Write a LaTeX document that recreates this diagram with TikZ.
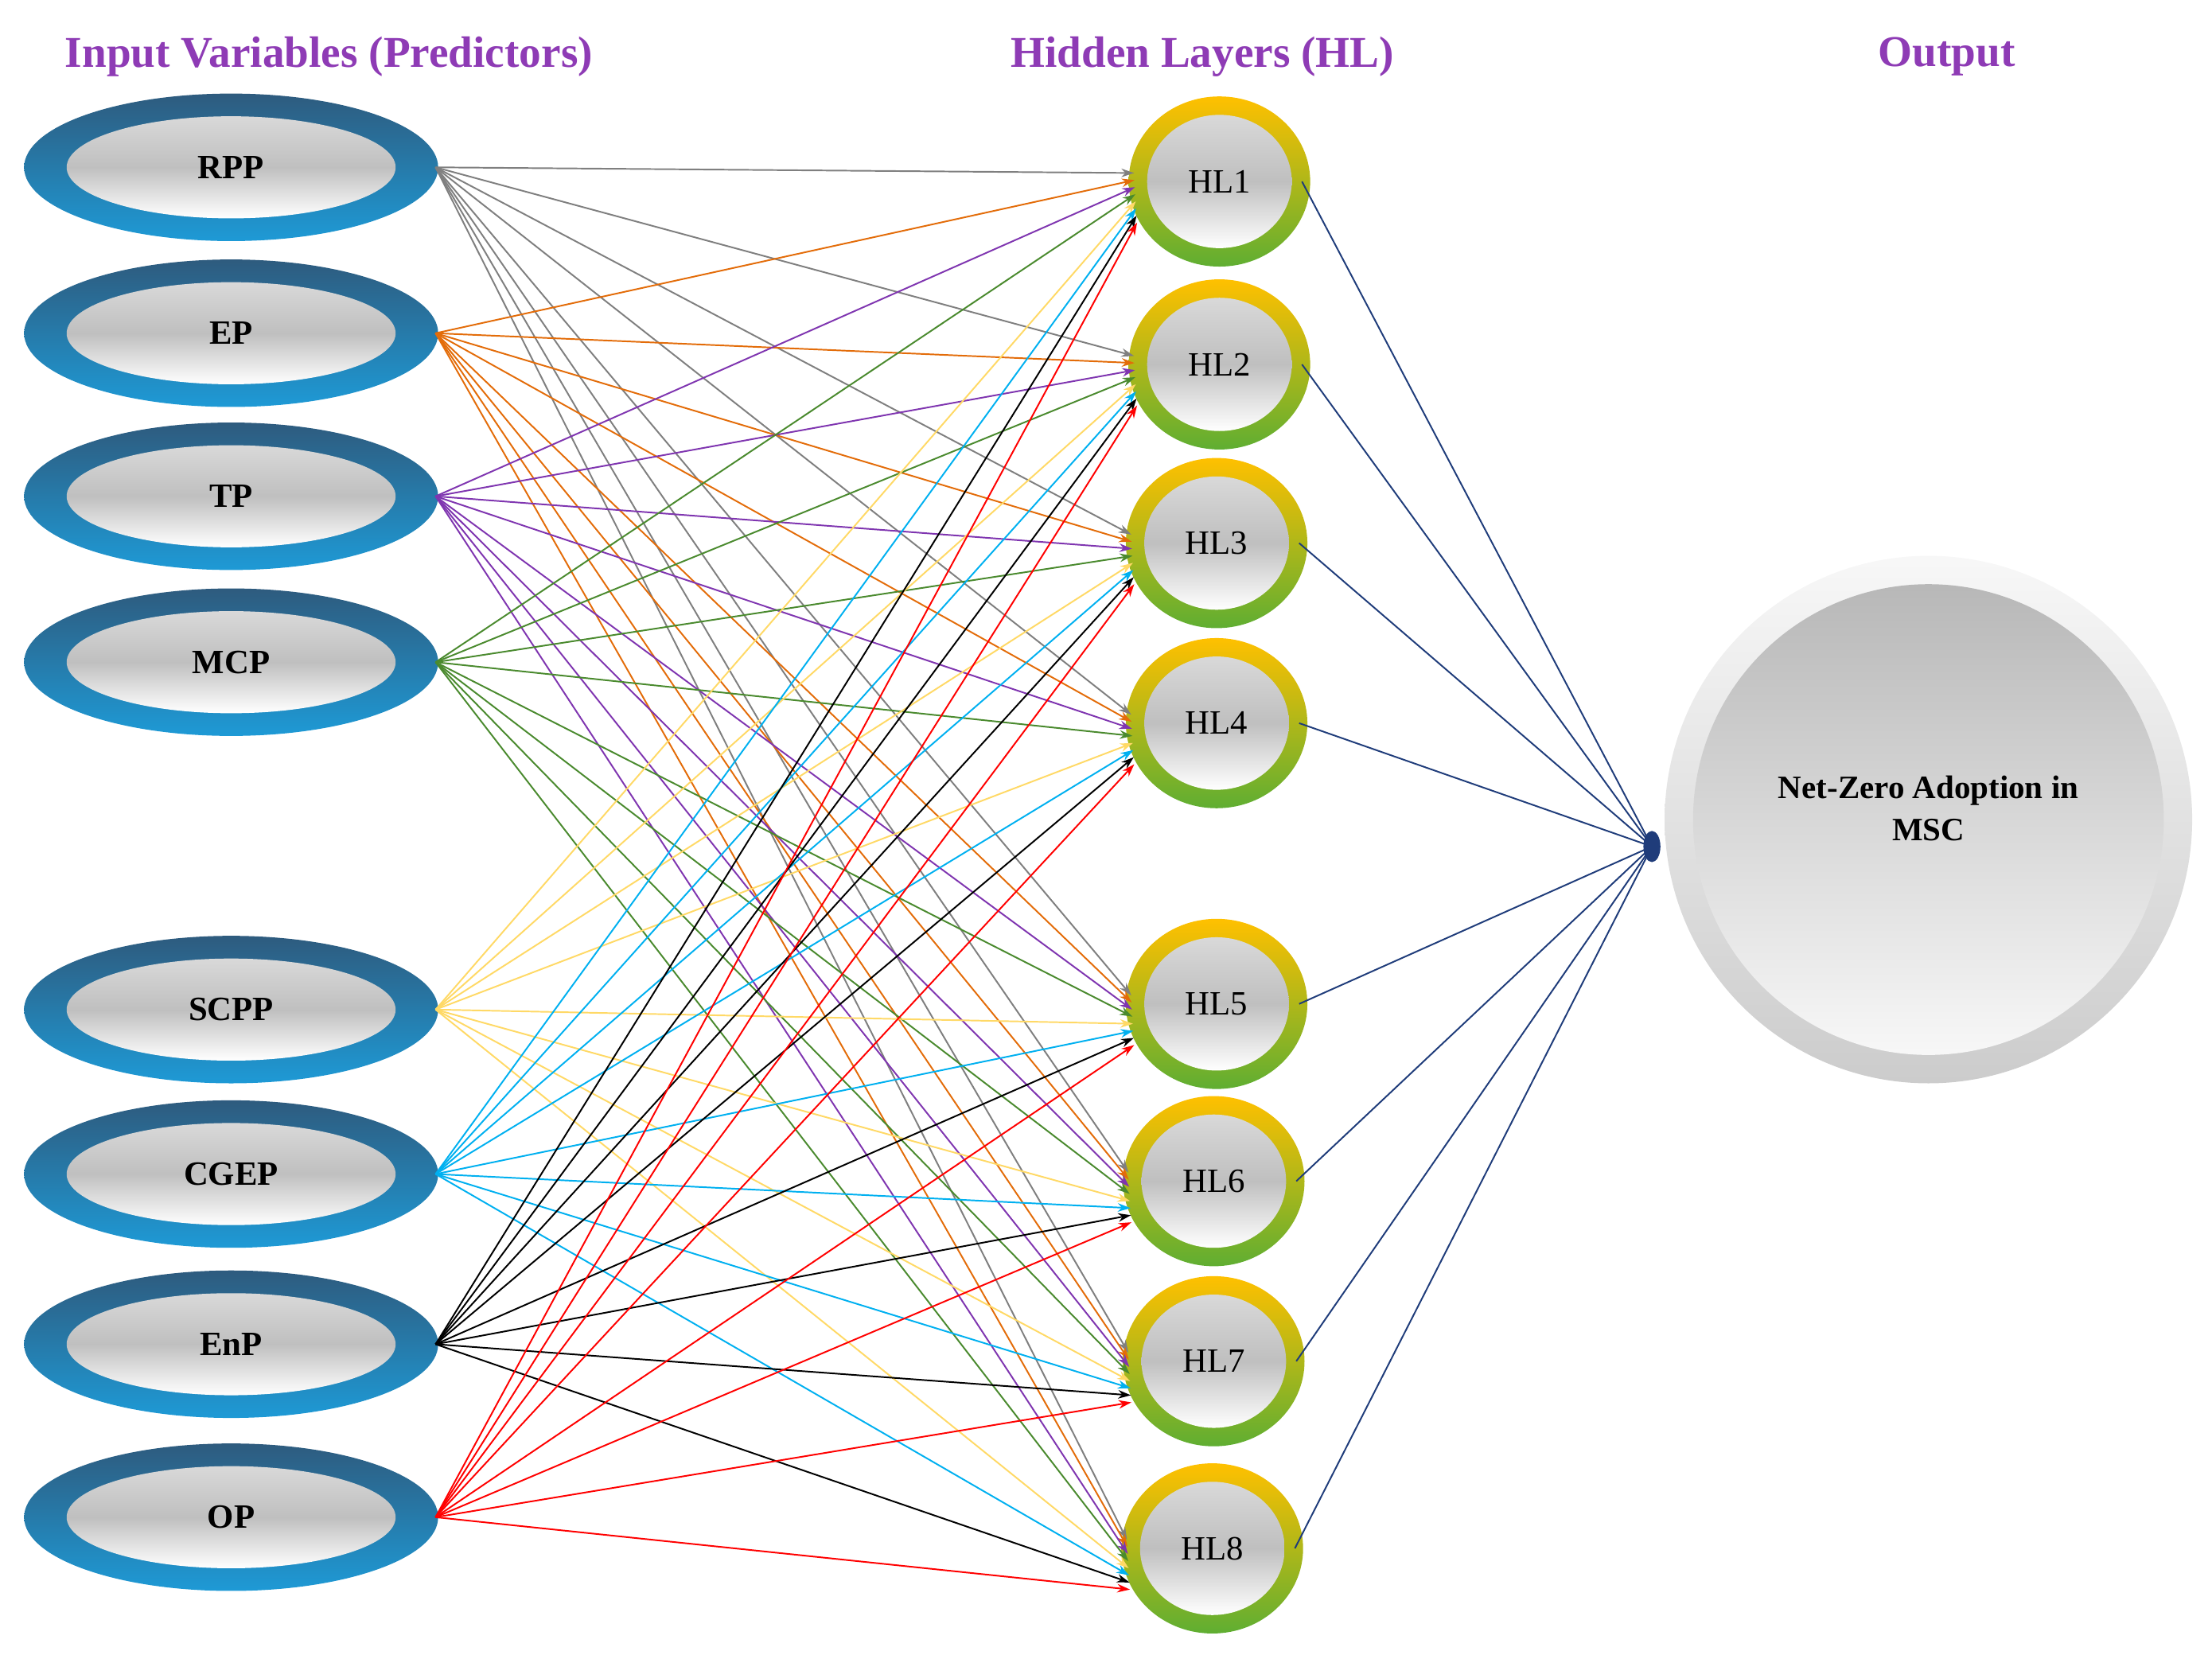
\documentclass[tikz,border=0pt]{standalone}
\usepackage{fontspec}
\setmainfont{Liberation Serif}
\usetikzlibrary{arrows.meta,calc}
\definecolor{ttl}{HTML}{8E3BB5}
\definecolor{cgray}{HTML}{7F7F7F}
\definecolor{corange}{HTML}{E36C09}
\definecolor{cpurple}{HTML}{7F35B0}
\definecolor{cgreen}{HTML}{4A8A2E}
\definecolor{cyellow}{HTML}{FFD966}
\definecolor{ccyan}{HTML}{00B0F0}
\definecolor{cblack}{HTML}{000000}
\definecolor{cred}{HTML}{FF0000}
\definecolor{navy}{HTML}{1F3C7A}
\definecolor{bdark}{HTML}{2E5B7E}
\definecolor{blight}{HTML}{1E9AD6}
\definecolor{ryel}{HTML}{FFC000}
\definecolor{rgrn}{HTML}{5FAE32}
\tikzset{
  ttlstyle/.style={text=ttl,font=\fontsize{31}{34}\selectfont\bfseries},
  inlab/.style={font=\fontsize{24}{28}\selectfont\bfseries},
  hlab/.style={font=\fontsize{24}{28}\selectfont},
  edge/.style={line width=1.1pt,-{Stealth[length=9pt,width=6pt]}},
  outedge/.style={navy,line width=1.1pt}
}
\begin{document}
\begin{tikzpicture}[x=1pt,y=-1pt]
\useasboundingbox (0,0) rectangle (1560,1167);
\node[ttlstyle] (t1) at (232,40) {Input Variables (Predictors)};
\node[ttlstyle] (t2) at (848,40) {Hidden Layers (HL)};
\node[ttlstyle] (t3) at (1373,40) {Output};
% inputs
\foreach \n/\lab/\yy in {1/RPP/118,2/EP/235,3/TP/350,4/MCP/467,5/SCPP/712,6/CGEP/828,7/EnP/948,8/OP/1070}{
  \shade[top color=bdark,bottom color=blight] (163,\yy) ellipse [x radius=146,y radius=52];
  \shade[top color=white!70!gray,bottom color=white,middle color=white!75!black] (163,\yy) ellipse [x radius=116,y radius=36];
  \node[inlab,minimum width=292,minimum height=104,inner sep=0] (i\n) at (163,\yy) {\lab};
}
% hidden
\foreach \n/\xx/\yy in {1/860/128,2/860/257,3/858/383,4/858/510,5/858/708,6/856/833,7/856/960,8/855/1092}{
  \shade[top color=ryel,bottom color=rgrn] (\xx,\yy) ellipse [x radius=64,y radius=60];
  \shade[top color=white!70!gray,bottom color=white,middle color=white!75!black] (\xx,\yy) ellipse [x radius=51,y radius=47];
  \node[hlab,minimum size=124,inner sep=0,circle] (h\n) at (\xx,\yy) {HL\n};
}
% output
\shade[top color=white!97!black,bottom color=white!80!black] (1360,578) circle [radius=186];
\shade[top color=white!72!black,bottom color=white!97!black] (1360,578) circle [radius=166];
\node[inlab,align=center,font=\fontsize{23}{30}\selectfont\bfseries,minimum size=372,circle,inner sep=0] (out) at (1360,570) {Net-Zero Adoption in\\MSC};
\coordinate (hub) at (1165,597);
% edges
\foreach \i/\c in {1/cgray,2/corange,3/cpurple,4/cgreen,5/cyellow,6/ccyan,7/cblack,8/cred}{
  \foreach \h in {1,...,8}{
    \draw[edge,\c] ($(i\i.east)+(-2,0)$) -- ($(h\h.west)+({2+0.3*(\i-1)},{-6+5*(\i-1)})$);
  }
}
\foreach \h in {1,...,8}{
  \draw[outedge] ($(h\h.east)+(-4,0)$) -- (hub);
}
\fill[navy] (hub) ellipse [x radius=6,y radius=11];
\end{tikzpicture}
\end{document}
